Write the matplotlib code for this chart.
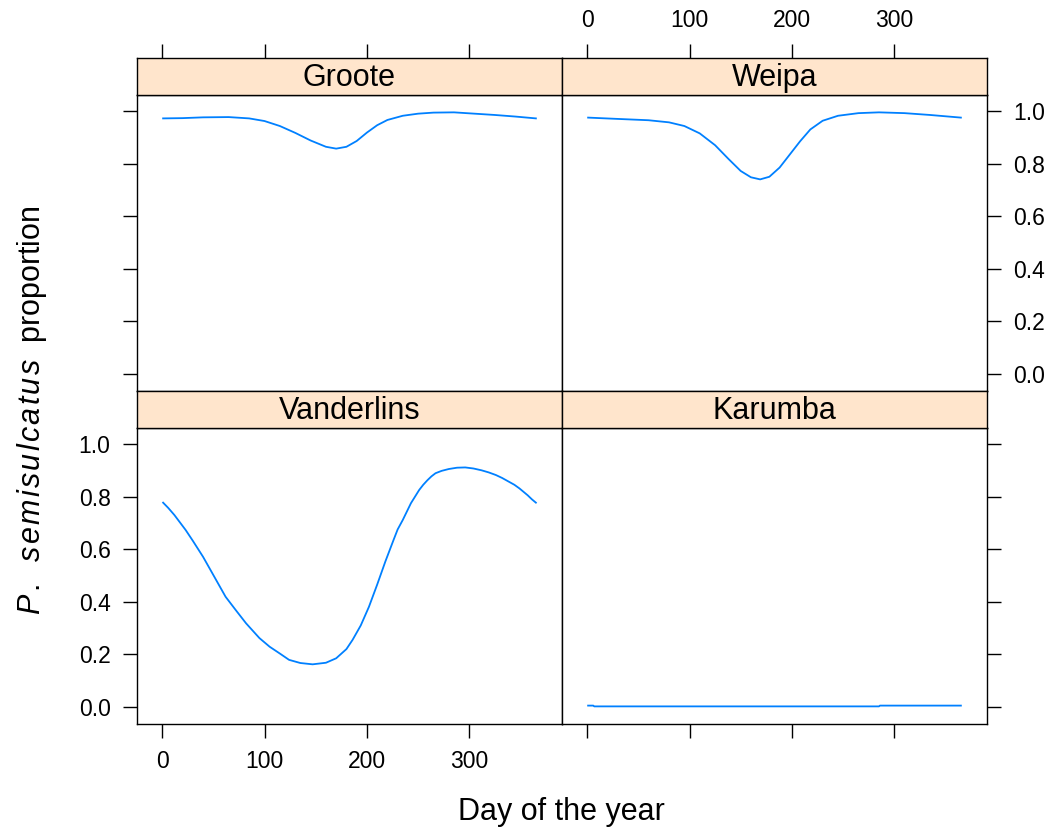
import numpy as np
import matplotlib
matplotlib.use("Agg")
import matplotlib.pyplot as plt

plt.rcParams['font.family'] = ['Liberation Sans', 'DejaVu Sans']
plt.rcParams['mathtext.fontset'] = 'custom'
plt.rcParams['mathtext.rm'] = 'Liberation Sans'
plt.rcParams['mathtext.it'] = 'Liberation Sans:italic'

# fitted seasonal proportion curves per site
groote_day = [1, 20, 40, 65, 85, 100, 115, 130, 145, 160, 170, 180, 190, 200, 210,
              220, 235, 250, 265, 285, 305, 325, 345, 365]
groote_val = [0.972, 0.973, 0.976, 0.977, 0.972, 0.962, 0.943, 0.917, 0.888, 0.864,
              0.857, 0.864, 0.886, 0.918, 0.946, 0.966, 0.982, 0.990, 0.994, 0.995,
              0.990, 0.985, 0.979, 0.972]

weipa_day = [1, 30, 60, 80, 95, 110, 125, 138, 150, 160, 169, 178, 188, 198, 208,
             218, 230, 245, 265, 285, 310, 335, 365]
weipa_val = [0.975, 0.970, 0.965, 0.957, 0.943, 0.915, 0.870, 0.818, 0.772, 0.748,
             0.740, 0.750, 0.785, 0.835, 0.885, 0.930, 0.963, 0.982, 0.992, 0.995,
             0.992, 0.985, 0.975]

vander_day = [1, 6, 12, 23, 30, 40, 50, 62, 72, 82, 95, 105, 115, 124, 135, 147, 160,
              170, 180, 186, 194, 202, 210, 218, 226, 230, 235, 243, 247, 251, 255,
              259, 263, 267, 273, 280, 288, 296, 304, 312, 319, 326, 332, 338, 344,
              349, 353, 357, 361, 365]
vander_val = [0.777, 0.757, 0.730, 0.673, 0.632, 0.571, 0.502, 0.419, 0.368, 0.318,
              0.262, 0.229, 0.203, 0.179, 0.167, 0.162, 0.168, 0.185, 0.220, 0.255,
              0.310, 0.381, 0.465, 0.553, 0.635, 0.675, 0.711, 0.775, 0.800, 0.825,
              0.845, 0.862, 0.877, 0.889, 0.898, 0.905, 0.910, 0.911, 0.907, 0.900,
              0.892, 0.882, 0.871, 0.858, 0.845, 0.831, 0.818, 0.805, 0.790, 0.777]

karumba_day = [1, 6, 7, 285, 286, 365]
karumba_val = [0.005, 0.005, 0.002, 0.002, 0.005, 0.005]

xticks = [0, 100, 200, 300]
yticks = [0.0, 0.2, 0.4, 0.6, 0.8, 1.0]
ytick_labels = ['0.0', '0.2', '0.4', '0.6', '0.8', '1.0']

W, H = 1052, 834
fig = plt.figure(figsize=(W / 100, H / 100), dpi=100)

line_col = '#0080ff'
strip_col = '#ffe5cc'
xlim = (-24.5, 390.5)
ylim = (-0.065, 1.061)

cols = [(137, 562), (562, 987)]
rows = [(95, 391), (428, 724)]  # panel top/bottom in px
strip_h = 37

panels = [
    ("Groote", groote_day, groote_val, 0, 0),
    ("Weipa", weipa_day, weipa_val, 0, 1),
    ("Vanderlins", vander_day, vander_val, 1, 0),
    ("Karumba", karumba_day, karumba_val, 1, 1),
]

tick_kw = dict(length=10, width=1.0, labelsize=16.5, pad=9, direction='out')

for name, days, vals, r, c in panels:
    x0, x1 = cols[c]
    top, bot = rows[r]
    ax = fig.add_axes([x0 / W, (H - bot) / H, (x1 - x0) / W, (bot - top) / H])
    sax = fig.add_axes([x0 / W, (H - top) / H, (x1 - x0) / W, strip_h / H])
    ax.plot(days, vals, color=line_col, lw=1.3)
    ax.set_xlim(xlim)
    ax.set_ylim(ylim)
    sax.set_xlim(xlim)
    sax.set_facecolor(strip_col)
    sax.set_yticks([])
    sax.text(0.5, 0.45, name, transform=sax.transAxes, ha='center', va='center',
             fontsize=22)
    for a in (ax, sax):
        for s in a.spines.values():
            s.set_linewidth(1.0)

    ax.set_xticks(xticks)
    ax.set_yticks(yticks)
    ax.set_yticklabels(ytick_labels)
    ax.tick_params(axis='both', **tick_kw)
    sax.set_xticks(xticks)
    sax.tick_params(axis='x', **tick_kw)

    # lattice-style alternating axes
    ax.tick_params(axis='x', top=False, labeltop=False,
                   bottom=(r == 1), labelbottom=(r == 1 and c == 0))
    sax.tick_params(axis='x', bottom=False, labelbottom=False,
                    top=(r == 0), labeltop=(r == 0 and c == 1))
    ax.tick_params(axis='y', left=(c == 0), labelleft=(c == 0 and r == 1),
                   right=(c == 1), labelright=(c == 1 and r == 0))

fig.text(561 / W, 1 - 812 / H, 'Day of the year', ha='center', va='center', fontsize=22)

# italic species name, letters spread a little like R plotmath
species = r'\hspace{0.09}'.join(r'\mathit{%s}' % ch for ch in 'semisulcatus')
ylab = r'$\mathit{P}\hspace{0.12}\mathit{.}\ \ ' + species + r'\ \ \mathrm{proportion}$'
fig.text(32 / W, 1 - 410 / H, ylab, rotation=90, ha='center', va='center', fontsize=22)

fig.savefig('out.png', dpi=100)
